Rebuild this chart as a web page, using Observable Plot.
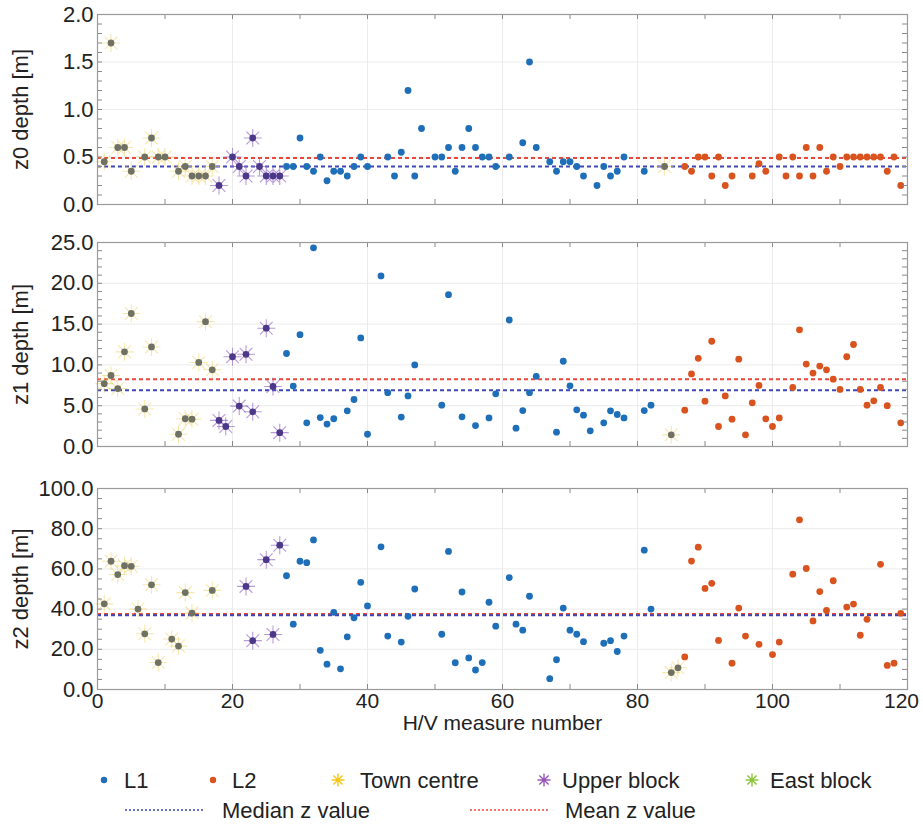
<!DOCTYPE html>
<html>
<head>
<meta charset="utf-8">
<script src="https://cdn.jsdelivr.net/npm/d3@7"></script>
<script src="https://cdn.jsdelivr.net/npm/@observablehq/plot@0.6"></script>
<style>
  html, body { margin: 0; padding: 0; background: #fff; }
  #wrap { position: relative; width: 923px; height: 826px; font-family: "Liberation Sans", Arial, sans-serif; }
  #wrap > div, #wrap > svg { position: absolute; left: 0; }
</style>
</head>
<body>
<div id="wrap"></div>
<script>
// ---------- data: z0 ----------
const townX0 = [1,2,3,4,5,7,8,9,10,12,13,14,15,16,17,84];
const townY0 = [0.45,1.70,0.60,0.60,0.35,0.50,0.70,0.50,0.50,0.35,0.40,0.30,0.30,0.30,0.40,0.40];
const upperX0 = [18,20,21,22,23,24,25,26,27];
const upperY0 = [0.20,0.50,0.40,0.30,0.70,0.40,0.30,0.30,0.30];
const l1X0 = [28,29,30,31,32,33,34,35,36,37,38,39,40,43,44,45,46,47,48,50,51,52,53,54,55,56,57,58,59,61,63,64,65,67,68,69,70,71,72,74,75,76,77,78,81];
const l1Y0 = [0.40,0.40,0.70,0.40,0.35,0.50,0.25,0.35,0.35,0.30,0.40,0.50,0.40,0.50,0.30,0.55,1.20,0.30,0.80,0.50,0.50,0.60,0.35,0.60,0.80,0.60,0.50,0.50,0.40,0.50,0.65,1.50,0.60,0.45,0.35,0.45,0.45,0.40,0.30,0.20,0.40,0.30,0.35,0.50,0.35];
const l2X0 = [87,88,89,90,91,92,93,94,97,98,99,101,102,103,104,105,106,107,108,109,110,111,112,113,114,115,116,117,118,119];
const l2Y0 = [0.40,0.35,0.50,0.50,0.30,0.50,0.20,0.30,0.30,0.43,0.35,0.50,0.30,0.50,0.30,0.60,0.30,0.60,0.35,0.50,0.40,0.50,0.50,0.50,0.50,0.50,0.50,0.35,0.50,0.20];
const mean0 = 0.49, median0 = 0.40;

// ---------- data: z1 ----------
const townX1 = [1,2,3,4,5,7,8,12,13,14,15,16,17,85];
const townY1 = [7.7,8.7,7.1,11.6,16.3,4.6,12.2,1.5,3.4,3.35,10.3,15.3,9.4,1.43];
const upperX1 = [18,19,20,21,22,23,25,26,27];
const upperY1 = [3.2,2.45,11.0,4.95,11.3,4.25,14.5,7.35,1.7];
const l1X1 = [28,29,30,31,32,33,34,35,37,38,39,40,42,43,45,46,47,51,52,54,56,58,59,61,62,63,64,65,68,69,70,71,72,73,75,76,77,78,81,82];
const l1Y1 = [11.4,7.4,13.7,2.9,24.35,3.55,2.75,3.4,4.37,5.76,13.3,1.5,20.9,6.6,3.6,6.2,10.0,5.07,18.6,3.64,2.57,3.5,6.45,15.5,2.25,4.4,6.6,8.6,1.75,10.45,7.43,4.5,3.84,1.92,2.9,4.37,3.92,3.5,4.4,5.07];
const l2X1 = [87,88,89,90,91,92,93,94,95,96,97,98,99,100,101,103,104,105,106,107,108,109,110,111,112,113,114,115,116,117,119];
const l2Y1 = [4.45,8.9,10.8,5.55,12.9,2.45,6.2,3.35,10.7,1.43,5.35,7.48,3.39,2.45,3.5,7.23,14.3,10.1,9.0,9.85,9.4,8.25,7.0,11.0,12.5,7.0,5.07,5.6,7.23,5.0,2.9];
const mean1 = 8.25, median1 = 6.9;

// ---------- data: z2 ----------
const townX2 = [1,2,3,4,5,6,7,8,9,11,12,13,14,17,85,86];
const townY2 = [42.6,63.8,57.2,61.6,61.3,40.0,27.7,52.1,13.4,25.1,21.6,48.2,38.0,49.3,8.4,10.8];
const upperX2 = [22,23,25,26,27];
const upperY2 = [51.3,24.3,64.6,27.4,71.8];
const l1X2 = [28,29,30,31,32,33,34,35,36,37,38,39,40,42,43,45,46,47,51,52,53,54,55,56,57,58,59,61,62,63,64,67,68,69,70,71,72,75,76,77,78,81,82];
const l1Y2 = [56.6,32.5,63.8,63.1,74.4,19.5,12.6,38.4,10.3,26.2,35.7,53.3,41.6,71.0,26.6,23.6,36.4,50.0,27.5,68.7,13.3,48.5,15.7,9.7,13.4,43.4,31.5,55.7,32.5,29.5,46.4,5.4,14.8,40.5,29.5,27.5,23.8,23.0,24.3,18.9,26.6,69.3,40.0];
const l2X2 = [87,88,89,90,91,92,94,95,96,98,100,101,103,104,105,106,107,108,109,111,112,113,114,116,117,118,119];
const l2Y2 = [16.2,63.9,70.8,50.3,52.8,24.4,13.1,40.5,26.6,22.5,17.4,23.6,57.4,84.4,60.2,34.1,48.7,39.3,54.1,41.0,42.5,27.0,34.9,62.3,12.0,13.1,37.9];
const mean2 = 37.6, median2 = 37.0;

// ---------- axis ticks / labels ----------
const xTickLabels = [0,20,40,60,80,100,120];
const xMinor = d3.range(0, 121, 10);
const yLabels = ["z0 depth [m]", "z1 depth [m]", "z2 depth [m]"];
const xLabel = "H/V measure number";
const legendSeries = ["L1", "L2", "Town centre", "Upper block", "East block"];
const legendLines = ["Median z value", "Mean z value"];

// ---------- styles ----------
const C = {
  l1: "#1f6fb8", l2: "#d9531e",
  townDot: "#6f7262", townStar: "#f0cf5a",
  upperDot: "#4b3888", upperStar: "#9466c6",
  eastStar: "#8cc43c",
  mean: "#e8473d", median: "#3d47b8",
  grid: "#ebebeb", frame: "#9a9a9a", tick: "#8a8a8a", text: "#222"
};
const FONT = '"Liberation Sans", Arial, sans-serif';

const star8 = {
  draw(ctx, size) {
    const r = Math.sqrt(size / Math.PI);
    const d = r * Math.SQRT1_2;
    ctx.moveTo(-r, 0); ctx.lineTo(r, 0);
    ctx.moveTo(0, -r); ctx.lineTo(0, r);
    ctx.moveTo(-d, -d); ctx.lineTo(d, d);
    ctx.moveTo(-d, d); ctx.lineTo(d, -d);
  }
};

const pts = (xs, ys) => xs.map((x, i) => ({x, y: ys[i]}));

function panel(o) {
  const W = 923, ml = 97, mr = 16;
  const plotH = o.height - o.mt - o.mb;
  const yPerPx = (o.domain[1] - o.domain[0]) / plotH;
  const xPerPx = 120 / (W - ml - mr);
  const tl = 5;
  const town = pts(o.townX, o.townY), upper = pts(o.upperX, o.upperY);
  const l1 = pts(o.l1X, o.l1Y), l2 = pts(o.l2X, o.l2Y);
  const marks = [
    Plot.ruleX(xTickLabels.slice(1, -1), {stroke: C.grid, strokeWidth: 1}),
    Plot.ruleY(o.yTicks.slice(1, -1), {stroke: C.grid, strokeWidth: 1}),
    Plot.ruleY([o.mean], {stroke: C.mean, strokeWidth: 2, strokeDasharray: "4,3"}),
    Plot.ruleY([o.median], {stroke: C.median, strokeWidth: 2, strokeDasharray: "4,3"}),
    Plot.dot(l1, {x: "x", y: "y", r: 3.4, fill: C.l1}),
    Plot.dot(l2, {x: "x", y: "y", r: 3.4, fill: C.l2}),
    Plot.dot(town, {x: "x", y: "y", r: 9, symbol: star8, fill: "none", stroke: C.townStar, strokeWidth: 1.1, strokeOpacity: 0.5}),
    Plot.dot(town, {x: "x", y: "y", r: 3.4, fill: C.townDot}),
    Plot.dot(upper, {x: "x", y: "y", r: 9, symbol: star8, fill: "none", stroke: C.upperStar, strokeWidth: 1.1, strokeOpacity: 0.65}),
    Plot.dot(upper, {x: "x", y: "y", r: 3.4, fill: C.upperDot}),
    // inward ticks
    Plot.ruleY(o.yMinor, {x1: 0, x2: tl * xPerPx, stroke: C.tick}),
    Plot.ruleY(o.yMinor, {x1: 120 - tl * xPerPx, x2: 120, stroke: C.tick}),
    Plot.ruleX(xMinor, {y1: o.domain[0], y2: o.domain[0] + tl * yPerPx, stroke: C.tick}),
    Plot.ruleX(xMinor, {y1: o.domain[1] - tl * yPerPx, y2: o.domain[1], stroke: C.tick}),
    Plot.frame({stroke: C.frame, strokeWidth: 1.2}),
    Plot.axisY(o.yTicks, {tickSize: 0, tickPadding: 4, tickFormat: d3.format(".1f"), fontSize: 22, label: null}),
    Plot.text([o.yLabel], {frameAnchor: "left", dx: -77, rotate: -90, textAnchor: "middle", fontSize: 22, fill: C.text})
  ];
  if (o.xAxis) {
    marks.push(Plot.axisX(xTickLabels.slice(0, -1), {tickSize: 0, tickPadding: 4, fontSize: 21, label: null}));
    marks.push(Plot.axisX(xTickLabels.slice(-1), {tickSize: 0, tickPadding: 4, fontSize: 21, label: null, dx: -6}));
    marks.push(Plot.text([xLabel], {frameAnchor: "bottom", dy: 40, fontSize: 21, fill: C.text}));
  }
  const svg = Plot.plot({
    width: W, height: o.height,
    marginLeft: ml, marginRight: mr, marginTop: o.mt, marginBottom: o.mb,
    x: {domain: [0, 120], axis: null},
    y: {domain: o.domain, axis: null},
    style: {fontFamily: FONT, fontSize: "22px", color: C.text, background: "transparent", overflow: "visible"},
    marks
  });
  svg.style.position = "absolute";
  svg.style.top = o.top + "px";
  svg.style.left = "0px";
  return svg;
}

const wrap = document.getElementById("wrap");
wrap.appendChild(panel({
  top: 0, height: 228, mt: 14, mb: 24, domain: [0, 2],
  yTicks: [0, 0.5, 1, 1.5, 2], yMinor: d3.range(0, 2.01, 0.1),
  yLabel: yLabels[0], mean: mean0, median: median0,
  townX: townX0, townY: townY0, upperX: upperX0, upperY: upperY0,
  l1X: l1X0, l1Y: l1Y0, l2X: l2X0, l2Y: l2Y0
}));
wrap.appendChild(panel({
  top: 228, height: 228, mt: 14, mb: 10, domain: [0, 25],
  yTicks: [0, 5, 10, 15, 20, 25], yMinor: d3.range(0, 25.01, 1),
  yLabel: yLabels[1], mean: mean1, median: median1,
  townX: townX1, townY: townY1, upperX: upperX1, upperY: upperY1,
  l1X: l1X1, l1Y: l1Y1, l2X: l2X1, l2Y: l2Y1
}));
wrap.appendChild(panel({
  top: 456, height: 284, mt: 32, mb: 51, domain: [0, 100],
  yTicks: [0, 20, 40, 60, 80, 100], yMinor: d3.range(0, 100.1, 5),
  yLabel: yLabels[2], mean: mean2, median: median2, xAxis: true,
  townX: townX2, townY: townY2, upperX: upperX2, upperY: upperY2,
  l1X: l1X2, l1Y: l1Y2, l2X: l2X2, l2Y: l2Y2
}));

// ---------- legend ----------
const leg = d3.create("svg").attr("width", 923).attr("height", 86)
  .style("position", "absolute").style("top", "740px").style("left", "0px")
  .style("font-family", FONT);
const starPath = (cx, cy, r) => {
  const d = r * Math.SQRT1_2;
  return `M${cx - r},${cy}H${cx + r}M${cx},${cy - r}V${cy + r}M${cx - d},${cy - d}L${cx + d},${cy + d}M${cx - d},${cy + d}L${cx + d},${cy - d}`;
};
const row1 = 40, row2 = 70;
const items = [
  {kind: "dot", color: C.l1, x: 104, tx: 124},
  {kind: "dot", color: C.l2, x: 213, tx: 232},
  {kind: "star", color: "#f5c71a", x: 338, tx: 360},
  {kind: "star", color: "#9a55b5", x: 544, tx: 562},
  {kind: "star", color: C.eastStar, x: 752, tx: 770}
];
items.forEach((it, i) => {
  if (it.kind === "dot") leg.append("circle").attr("cx", it.x).attr("cy", row1).attr("r", 3.2).attr("fill", it.color);
  else leg.append("path").attr("d", starPath(it.x, row1, 6.5)).attr("stroke", it.color).attr("stroke-width", 1.4).attr("fill", "none");
  leg.append("text").attr("x", it.tx).attr("y", row1).attr("dy", "0.35em").attr("font-size", 22).attr("fill", C.text).text(legendSeries[i]);
});
const lineItems = [
  {color: C.median, x1: 125, x2: 205, tx: 222},
  {color: C.mean, x1: 470, x2: 548, tx: 565}
];
lineItems.forEach((it, i) => {
  leg.append("line").attr("x1", it.x1).attr("x2", it.x2).attr("y1", row2).attr("y2", row2)
    .attr("stroke", it.color).attr("stroke-width", 1.5).attr("stroke-dasharray", "2,2");
  leg.append("text").attr("x", it.tx).attr("y", row2).attr("dy", "0.35em").attr("font-size", 22).attr("fill", C.text).text(legendLines[i]);
});
wrap.appendChild(leg.node());
</script>
</body>
</html>
